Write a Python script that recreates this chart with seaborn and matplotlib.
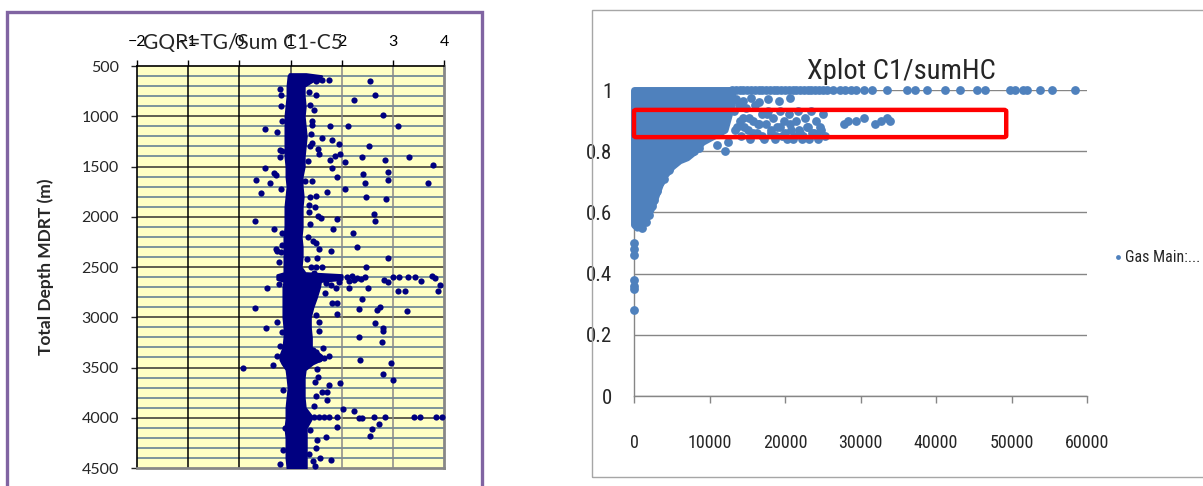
import matplotlib
matplotlib.use('Agg')
import matplotlib.pyplot as plt
import matplotlib.patches as patches
from matplotlib import font_manager
import seaborn as sns
import pandas as pd

# === Left panel: GQR vs depth ===
# dense core of the log, read as left/right envelope per depth
core_depth = [580, 600, 650, 700, 800, 900, 1000, 1100, 1200, 1300, 1400, 1500, 1600, 1700,
              1800, 1900, 2000, 2100, 2200, 2300, 2400, 2500, 2560, 2580, 2620, 2640, 2700,
              2800, 2900, 3000, 3100, 3200, 3300, 3380, 3420, 3460, 3520, 3600, 3700, 3800,
              3900, 3980, 4010, 4100, 4200, 4300, 4400, 4500]
core_left = [0.98, 0.96, 0.95, 0.94, 0.94, 0.92, 0.90, 0.90, 0.90, 0.90, 0.90, 0.92, 0.92, 0.94,
             0.92, 0.90, 0.90, 0.90, 0.88, 0.88, 0.88, 0.88, 0.88, 0.74, 0.74, 0.88, 0.86,
             0.86, 0.86, 0.86, 0.88, 0.88, 0.86, 0.80, 0.80, 0.84, 0.92, 0.94, 0.96, 0.94,
             0.92, 0.92, 0.92, 0.90, 0.92, 0.92, 0.92, 0.94]
core_right = [1.30, 1.60, 1.42, 1.26, 1.26, 1.28, 1.26, 1.28, 1.30, 1.28, 1.26, 1.26, 1.22, 1.22,
              1.24, 1.22, 1.22, 1.22, 1.20, 1.22, 1.22, 1.20, 1.28, 2.00, 2.00, 1.58, 1.56,
              1.50, 1.43, 1.38, 1.38, 1.40, 1.40, 1.60, 1.60, 1.43, 1.28, 1.26, 1.26, 1.26,
              1.28, 1.40, 1.40, 1.30, 1.30, 1.30, 1.30, 1.30]

# scattered readings off the core
gqr_x = [1.35, 1.45, 1.55, 1.62, 1.50, 1.75, 2.56, 0.79, 0.81, 1.50, 2.65, 2.24, 1.39, 1.46, 2.81,
         1.42, 1.42, 0.50, 0.73, 1.77, 2.12, 3.11, 1.61, 1.81, 1.42, 1.94, 2.53, 1.53, 0.84, 1.97,
         1.86, 1.78, 2.39, 3.32, 0.79, 1.55, 2.85, 2.07, 3.79, 0.50, 1.82, 0.67, 0.71, 2.91, 2.41,
         0.33, 0.60, 1.91, 1.28, 1.42, 2.45, 2.91, 3.69, 2.07, 1.72,
         0.43, 2.47, 2.87, 1.50, 1.39, 1.48, 1.36, 2.63, 1.53, 1.60, 1.91, 2.65, 0.31, 1.38, 0.68,
         0.83, 1.83, 2.23, 1.44, 1.50, 2.29, 0.71, 0.73, 1.56, 1.80, 2.90, 1.52, 2.48, 1.40, 1.50,
         1.61, 2.10, 2.20, 2.30, 2.38, 2.25, 2.45, 2.15, 2.83, 2.90, 3.00, 3.13, 3.29, 3.44, 3.55,
         3.77, 3.83, 3.93, 3.88, 0.54, 0.77, 1.88, 2.14, 2.52, 3.11, 3.23, 2.39, 1.81, 1.91, 0.30,
         2.33, 2.70, 2.75, 3.28, 1.91, 0.73, 2.65, 2.81,
         0.52, 1.56, 2.81, 2.33, 2.79, 1.64, 1.44, 1.50, 1.75, 1.65, 1.55, 0.73, 2.35, 2.96, 0.65,
         0.07, 1.51, 2.81, 1.53, 3.01, 1.97, 1.76, 1.61, 1.72, 1.50, 1.72, 2.03, 2.24, 1.45, 1.55,
         1.65, 1.75, 1.90, 2.33, 2.39, 2.64, 2.85, 3.42, 3.53, 3.84, 3.97, 2.72, 2.60, 2.55, 1.90,
         0.90, 1.39, 1.69, 1.52, 0.85, 1.50, 1.44, 1.57, 1.79,
         0.82, 0.80, 1.40, 1.38, 0.78, 1.35, 1.45, 1.70, 1.80, 1.95, 1.68, 0.80, 1.48, 1.45, 0.82,
         1.36, 0.84, 1.34, 0.82, 1.36, 0.84, 1.33, 0.83, 1.34, 1.50, 1.55, 0.80, 1.48, 0.86, 1.37]
gqr_depth = [615, 620, 630, 640, 650, 639, 645, 731, 787, 790, 787, 843, 889, 939, 985,
             1048, 1087, 1127, 1153, 1097, 1097, 1097, 1213, 1236, 1266, 1272, 1295, 1322, 1345, 1378,
             1400, 1433, 1401, 1401, 1401, 1378, 1437, 1460, 1483, 1510, 1510, 1566, 1583, 1553, 1570,
             1639, 1668, 1602, 1642, 1642, 1668, 1639, 1668, 1721, 1754,
             1767, 1800, 1827, 1794, 1807, 1900, 1950, 1970, 1993, 2013, 2019, 2042, 2042, 2076, 2125,
             2158, 2125, 2158, 2238, 2265, 2301, 2324, 2341, 2324, 2338, 2411, 2411, 2504, 2504, 2504,
             2504, 2600, 2590, 2605, 2620, 2630, 2595, 2640, 2630, 2645, 2603, 2603, 2603, 2603, 2636,
             2590, 2610, 2676, 2739, 2706, 2673, 2706, 2712, 2706, 2739, 2739, 2819, 2862, 2862, 2905,
             2915, 2928, 2902, 2938, 2968, 3048, 3054, 3107,
             3110, 3133, 3133, 3193, 3250, 3309, 3326, 3342, 3382, 3409, 3419, 3382, 3422, 3458, 3475,
             3508, 3518, 3568, 3594, 3624, 3651, 3674, 3740, 3740, 3780, 3827, 3910, 3933, 3995, 3995,
             3995, 3995, 3995, 4006, 4006, 3989, 3989, 3989, 3989, 3995, 3989, 4062, 4112, 4185, 4089,
             4105, 4120, 4188, 4218, 4321, 4297, 4427, 4397, 4420,
             900, 1340, 1180, 1300, 2450, 2200, 2560, 2660, 2680, 2650, 2760, 4460, 4480, 3880, 2350,
             760, 1050, 1450, 1720, 1880, 2280, 2420, 3150, 3230, 2980, 3050, 3290, 3640, 3720, 4360]

# === Right panel: C1/sumHC crossplot ===
xp_core_x = [0, 400, 1000, 1600, 2200, 2800, 3400, 4000, 5000, 6000, 7000, 8000, 9000, 10500,
             12000, 13000]
xp_core_low = [0.56, 0.55, 0.56, 0.58, 0.61, 0.65, 0.69, 0.72, 0.75, 0.77, 0.78, 0.80, 0.83, 0.85,
               0.87, 0.96]
xp_core_high = [1.0, 1.0, 1.0, 1.0, 1.0, 1.0, 1.0, 1.0, 1.0, 1.0, 1.0, 1.0, 1.0, 1.0, 1.0, 1.0]

xp_x = [13000, 13500, 14000, 14500, 15000, 15500, 16000, 16500, 17000, 17500, 18000, 18500, 19000,
        19500, 20000, 20500, 21000, 21500, 22000, 22500, 23000, 23500, 24000, 24500, 25000, 25600,
        26400, 27300, 28000, 28700, 29400, 30500, 31500, 33500, 36100, 37200, 38800, 41200, 43200,
        45400, 46500, 49800, 50500, 51500, 52100, 53800, 55400, 58400,
        13300, 13600, 13900, 14200, 14500, 14800, 15100, 15400, 15700, 16000, 16300, 16600, 16900,
        17200, 17500, 17800, 18100, 18400, 18700, 19000, 19300, 19600, 19900, 20200, 20500, 20800,
        21100, 21400, 21700, 22000, 22300, 22600, 22900, 23200, 23500, 23800, 24100, 24400, 24700,
        25000, 25300, 27800, 28300, 29400, 30400, 31900, 32700, 33500, 33900,
        13400, 14000, 14600, 15200, 15800, 16400, 17000, 17600, 18200, 18800, 19400, 20000, 20600,
        21200, 21800, 22400, 23000, 23600, 24200, 24800,
        13500, 14500, 15500, 16600, 17800, 19200, 20600,
        11000, 12000, 12500, 8000, 8600, 7000, 6200, 5200, 4600, 4000, 3500, 3100, 2700, 2400,
        2000, 1600, 1000, 600, 300,
        0, 0, 50, 0, 0, 0, 0]
xp_y = [1.0, 1.0, 1.0, 1.0, 1.0, 1.0, 1.0, 1.0, 1.0, 1.0, 1.0, 1.0, 1.0,
        1.0, 1.0, 1.0, 1.0, 1.0, 1.0, 1.0, 1.0, 1.0, 1.0, 1.0, 1.0, 1.0,
        1.0, 1.0, 1.0, 1.0, 1.0, 1.0, 1.0, 1.0, 1.0, 1.0, 1.0, 1.0, 1.0,
        1.0, 1.0, 1.0, 1.0, 1.0, 1.0, 1.0, 1.0, 1.0,
        0.93, 0.88, 0.95, 0.85, 0.91, 0.94, 0.87, 0.84, 0.90, 0.95, 0.86, 0.89, 0.92,
        0.84, 0.89, 0.93, 0.86, 0.91, 0.84, 0.88, 0.93, 0.85, 0.90, 0.84, 0.92, 0.87,
        0.84, 0.90, 0.93, 0.86, 0.84, 0.91, 0.88, 0.84, 0.93, 0.86, 0.90, 0.84, 0.88,
        0.92, 0.85, 0.89, 0.90, 0.90, 0.91, 0.89, 0.90, 0.91, 0.90,
        0.87, 0.90, 0.88, 0.91, 0.86, 0.89, 0.85, 0.92, 0.87, 0.85, 0.88, 0.86, 0.89,
        0.85, 0.87, 0.85, 0.88, 0.86, 0.85, 0.87,
        0.97, 0.965, 0.975, 0.96, 0.97, 0.965, 0.975,
        0.82, 0.80, 0.83, 0.80, 0.81, 0.79, 0.78, 0.77, 0.74, 0.71, 0.70, 0.67, 0.64, 0.62,
        0.59, 0.57, 0.55, 0.56, 0.58,
        0.50, 0.48, 0.46, 0.38, 0.36, 0.35, 0.28]

# red highlight box (data units)
box_x0, box_x1 = 0, 49300
box_y0, box_y1 = 0.846, 0.935

left_df = pd.DataFrame({'GQR': gqr_x, 'Depth': gqr_depth})
right_df = pd.DataFrame({'x': xp_x, 'y': xp_y})

sns.set_style('white')
plt.rcParams['font.family'] = ['Lato', 'DejaVu Sans']

# narrow face for the excel-style right chart, if one is around
installed = {f.name for f in font_manager.fontManager.ttflist}
narrow_face = None
for cand in ['Liberation Sans Narrow', 'Roboto Condensed', 'DejaVu Sans Condensed', 'Open Sans Condensed']:
    if cand in installed:
        narrow_face = cand
        break
if narrow_face:
    narrow = [narrow_face, 'Lato']
    fs_tick_y, fs_tick_x, fs_leg, fs_title = 15, 13, 11.5, 20.5
else:
    narrow = ['Lato', 'DejaVu Sans']
    fs_tick_y, fs_tick_x, fs_leg, fs_title = 13.5, 11.5, 10, 17.5

fig = plt.figure(figsize=(12.03, 4.86), dpi=100)

# frames around the two pasted charts
fig.patches.append(patches.Rectangle((7 / 1203, -0.05), 475 / 1203, 1.05 - 12 / 486,
                                     transform=fig.transFigure, fill=False,
                                     edgecolor='#8064A2', linewidth=2.4))
fig.patches.append(patches.Rectangle((592 / 1203, 1 - 477 / 486), 0.52, 467 / 486,
                                     transform=fig.transFigure, fill=False,
                                     edgecolor='#A6A6A6', linewidth=1.0))

# --- left axes ---
ax1 = fig.add_axes([137 / 1203, 1 - 468 / 486, 307 / 1203, 402 / 486])
ax1.set_facecolor('#FFFFC4')
ax1.set_xlim(-2, 4)
ax1.set_ylim(4500, 500)
for d in range(600, 4500, 100):
    if d % 500:
        ax1.axhline(d, color='#5A7890', linewidth=1.1, zorder=0.5)
for d in range(1000, 4500, 500):
    ax1.axhline(d, color='#333333', linewidth=1.1, zorder=0.6)
for xv, c in [(-1, 'black'), (0, 'black'), (1, '#444444'), (2, '#888888'), (3, '#888888')]:
    ax1.axvline(xv, color=c, linewidth=1.1, zorder=0.6)

ax1.fill_betweenx(core_depth, core_left, core_right, color='#000080',
                  edgecolor='#000080', linewidth=2, zorder=3)
sns.scatterplot(data=left_df, x='GQR', y='Depth', ax=ax1, color='#000080', s=20,
                linewidth=0, zorder=4, clip_on=False)

ax1.xaxis.tick_top()
ax1.set_xticks(range(-2, 5))
ax1.set_yticks(range(500, 4501, 500))
ax1.tick_params(axis='x', top=True, bottom=False, length=4, width=1, pad=8,
                labelsize=11.5, colors='black')
ax1.tick_params(axis='y', left=True, length=4, width=1, pad=9, labelsize=11.5)
ax1.set_xlabel('')
ax1.set_ylabel('Total Depth MDRT (m)', fontsize=12.5, fontweight='bold', labelpad=20)
for side in ['top', 'left']:
    ax1.spines[side].set_color('black')
    ax1.spines[side].set_linewidth(1.2)
for side in ['right', 'bottom']:
    ax1.spines[side].set_color('#888888')
    ax1.spines[side].set_linewidth(2)
fig.text(243 / 1203, 1 - 43 / 486, 'GQR=TG/Sum C1-C5', fontsize=15, ha='center', va='center')

# --- right axes ---
ax2 = fig.add_axes([634 / 1203, 1 - 396 / 486, 453 / 1203, 306 / 486])
ax2.set_xlim(0, 60000)
ax2.set_ylim(0, 1)
ax2.set_yticks([0, 0.2, 0.4, 0.6, 0.8, 1])
ax2.set_yticklabels(['0', '0.2', '0.4', '0.6', '0.8', '1'], family=narrow, fontsize=fs_tick_y)
ax2.set_xticks(range(0, 60001, 10000))
ax2.set_xticklabels([str(v) for v in range(0, 60001, 10000)], family=narrow, fontsize=fs_tick_x)
ax2.grid(axis='y', color='#868686', linewidth=1)
ax2.tick_params(axis='y', left=False, pad=12)
ax2.tick_params(axis='x', bottom=True, length=5, width=1, color='#868686', pad=22)
for side in ['top', 'right']:
    ax2.spines[side].set_visible(False)
for side in ['left', 'bottom']:
    ax2.spines[side].set_color('#868686')
    ax2.spines[side].set_linewidth(1)

ax2.fill_between(xp_core_x, xp_core_low, xp_core_high, color='#4F81BD',
                 edgecolor='#4F81BD', linewidth=5, zorder=3, clip_on=False)
sns.scatterplot(data=right_df, x='x', y='y', ax=ax2, color='#4F81BD', s=40,
                linewidth=0, zorder=4, clip_on=False, label='Gas Main:...')
ax2.add_patch(patches.FancyBboxPatch((box_x0, box_y0), box_x1 - box_x0, box_y1 - box_y0,
                                     boxstyle='round,pad=0,rounding_size=300',
                                     mutation_aspect=1 / 60000,
                                     fill=False, edgecolor='#FF0000', linewidth=3.2, zorder=5,
                                     clip_on=False))
ax2.set_xlabel('')
ax2.set_ylabel('')
ax2.legend(loc='center left', bbox_to_anchor=(1112 / 1203, 1 - 257 / 486),
           bbox_transform=fig.transFigure, frameon=False, handletextpad=0.0,
           handlelength=0.8, markerscale=0.55, borderpad=0, borderaxespad=0,
           prop={'family': narrow, 'size': fs_leg})
fig.text(901 / 1203, 1 - 71 / 486, 'Xplot C1/sumHC', fontsize=fs_title, family=narrow,
         ha='center', va='center', zorder=10)

plt.savefig('out.png', dpi=100)
plt.close()
print("Plot created, no errors")
